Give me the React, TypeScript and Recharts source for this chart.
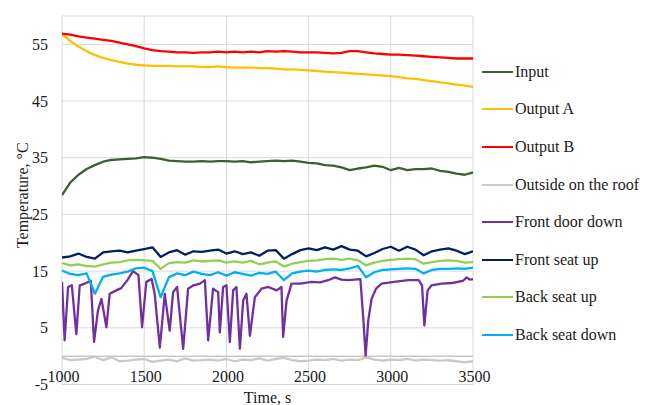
import { LineChart, Line, XAxis, YAxis, CartesianGrid, ReferenceLine } from 'recharts'

// time grid, s
const time = [
  1000, 1050, 1100, 1150, 1200, 1250, 1300, 1350, 1400, 1450,
  1500, 1550, 1600, 1650, 1700, 1750, 1800, 1850, 1900, 1950,
  2000, 2050, 2100, 2150, 2200, 2250, 2300, 2350, 2400, 2450,
  2500, 2550, 2600, 2650, 2700, 2750, 2800, 2850, 2900, 2950,
  3000, 3050, 3100, 3150, 3200, 3250, 3300, 3350, 3400, 3450,
  3500,
]

const input = [
  28.4, 30.6, 32.0, 33.0, 33.7, 34.3, 34.6, 34.7, 34.8, 34.9,
  35.1, 35.0, 34.8, 34.5, 34.4, 34.3, 34.3, 34.4, 34.3, 34.4,
  34.4, 34.3, 34.4, 34.2, 34.3, 34.4, 34.5, 34.4, 34.5, 34.3,
  34.1, 34.0, 33.7, 33.6, 33.3, 32.8, 33.1, 33.3, 33.6, 33.4,
  32.8, 33.2, 32.8, 33.0, 33.0, 33.1, 32.7, 32.5, 32.2, 32.0,
  32.4,
]

const outputA = [
  56.8, 55.6, 54.6, 53.8, 53.1, 52.6, 52.2, 51.9, 51.6, 51.4,
  51.3, 51.2, 51.2, 51.2, 51.1, 51.1, 51.1, 51.0, 51.0, 51.1,
  51.0, 50.9, 50.9, 50.9, 50.8, 50.8, 50.7, 50.6, 50.6, 50.5,
  50.4, 50.3, 50.2, 50.1, 50.0, 49.9, 49.8, 49.7, 49.6, 49.5,
  49.4, 49.2, 49.0, 48.9, 48.7, 48.5, 48.3, 48.1, 47.9, 47.7,
  47.5,
]

const outputB = [
  56.9, 56.7, 56.4, 56.2, 56.0, 55.8, 55.6, 55.3, 55.0, 54.7,
  54.3, 54.0, 53.8, 53.7, 53.6, 53.6, 53.5, 53.6, 53.6, 53.7,
  53.6, 53.7, 53.6, 53.7, 53.6, 53.8, 53.7, 53.8, 53.7, 53.6,
  53.6, 53.6, 53.5, 53.4, 53.5, 53.8, 53.8, 53.6, 53.4, 53.3,
  53.2, 53.2, 53.1, 53.0, 52.9, 52.8, 52.7, 52.6, 52.5, 52.5,
  52.5,
]

const roof = [
  -0.3, -0.7, -0.6, -0.5, -0.1, -0.7, -0.2, -0.9, -0.8, -0.6,
  -0.5, -1.0, -0.8, -0.6, -0.9, -0.4, -0.8, -0.7, -0.6, -0.8,
  -0.5, -0.9, -0.6, -0.7, -0.4, -0.8, -0.5, -0.3, -0.7, -0.9,
  -0.8, -0.6, -0.7, -0.5, -0.8, -0.6, -0.7, -0.2, -0.6, -0.8,
  -0.6, -0.7, -0.5, -0.8, -0.6, -0.7, -0.8, -0.7, -0.9, -1.1,
  -0.9,
]

const frontSeatUp = [
  17.4, 17.6, 18.1, 17.5, 17.2, 18.3, 18.5, 18.6, 18.3, 18.6,
  18.9, 19.2, 17.5, 18.3, 18.7, 17.9, 18.5, 18.4, 18.6, 18.8,
  18.1, 18.5, 18.0, 18.3, 17.7, 18.6, 18.7, 17.2, 18.0, 18.7,
  19.0, 18.7, 19.2, 18.8, 19.4, 18.8, 18.6, 17.6, 18.2, 18.9,
  19.3, 18.6, 19.3, 18.8, 17.8, 18.5, 18.8, 19.0, 18.6, 18.0,
  18.5,
]

const backSeatUp = [
  16.4, 16.0, 16.2, 15.9, 15.8, 16.2, 16.5, 16.6, 16.9, 17.0,
  16.9, 16.8, 15.4, 16.4, 16.6, 16.5, 16.9, 16.7, 16.8, 16.9,
  16.5, 16.7, 16.5, 16.8, 16.2, 16.5, 16.7, 15.8, 16.3, 16.6,
  16.8, 16.9, 17.1, 17.2, 17.0, 17.2, 16.9, 16.0, 16.5, 16.8,
  17.0, 17.1, 17.2, 17.1, 16.3, 16.6, 16.8, 16.9, 16.8, 16.5,
  16.6,
]

const backSeatDown = [
  15.1, 14.5, 14.3, 14.6, 11.0, 14.0, 14.4, 14.6, 14.9, 15.5,
  15.6, 15.0, 10.4, 13.9, 14.6, 14.3, 14.9, 14.5, 14.3, 14.8,
  14.2, 14.8, 14.5, 14.2, 14.7, 14.5, 14.9, 13.4, 14.6, 14.9,
  15.1, 14.9, 15.2, 15.3, 15.2, 15.5, 15.9, 13.9, 14.8, 15.2,
  15.3, 15.4, 15.5, 15.4, 14.6, 15.2, 15.4, 15.4, 15.5, 15.4,
  15.6,
]

// front door sensor is logged on its own (uneven) times
const doorTime = [
  1000, 1016, 1037, 1060, 1087, 1108, 1140, 1175, 1195, 1219,
  1240, 1270, 1290, 1330, 1360, 1400, 1432, 1465, 1487, 1513,
  1545, 1564, 1595, 1625, 1655, 1676, 1700, 1737, 1767, 1800,
  1840, 1869, 1889, 1919, 1950, 1960, 1980, 2000, 2021, 2041,
  2061, 2082, 2102, 2122, 2143, 2173, 2214, 2255, 2305, 2335,
  2345, 2366, 2396, 2450, 2518, 2570, 2619, 2660, 2700, 2741,
  2780, 2815, 2832, 2847, 2863, 2883, 2910, 2944, 3020, 3106,
  3170, 3190, 3204, 3224, 3248, 3310, 3370, 3440, 3461, 3480,
  3500,
]

const frontDoorDown = [
  13.1, 2.8, 12.2, 12.5, 3.9, 12.5, 12.8, 13.3, 2.5, 8.1,
  10.1, 5.1, 11.0, 11.6, 12.0, 13.5, 15.0, 14.3, 5.1, 13.1,
  13.6, 11.0, 1.5, 11.0, 4.5, 11.3, 12.2, 1.3, 11.9, 12.5,
  12.8, 13.4, 2.8, 11.9, 11.3, 4.2, 12.2, 12.5, 2.5, 11.6,
  12.2, 1.3, 9.8, 11.0, 3.6, 10.4, 11.9, 12.2, 11.6, 12.2,
  3.4, 9.8, 12.8, 12.8, 13.1, 13.0, 13.4, 13.9, 13.5, 13.4,
  13.5, 13.6, 6.9, 0.1, 6.3, 10.1, 11.9, 12.8, 13.1, 13.4,
  13.4, 12.5, 5.4, 11.6, 12.5, 12.8, 12.9, 13.3, 13.9, 13.5,
  13.6,
]

const xTicks = [1000, 1500, 2000, 2500, 3000, 3500]
const yTicks = [-5, 5, 15, 25, 35, 45, 55]

const toPoints = (ts: number[], vs: number[]) => ts.map((t, i) => ({ t, v: vs[i] }))

const series = [
  { name: 'Input', color: '#3d5f2f', data: toPoints(time, input) },
  { name: 'Output A', color: '#ffc000', data: toPoints(time, outputA) },
  { name: 'Output B', color: '#ff0000', data: toPoints(time, outputB) },
  { name: 'Outside on the roof', color: '#c9c9c9', data: toPoints(time, roof) },
  { name: 'Front door down', color: '#7030a0', data: toPoints(doorTime, frontDoorDown) },
  { name: 'Front seat up', color: '#002060', data: toPoints(time, frontSeatUp) },
  { name: 'Back seat up', color: '#92d050', data: toPoints(time, backSeatUp) },
  { name: 'Back seat down', color: '#00b0f0', data: toPoints(time, backSeatDown) },
]

const FONT = "'Liberation Serif', serif"

const XTick = ({ x, y, payload }: any) => (
  <text x={x} y={y} dx={1.5} dy={-3} textAnchor="middle" fontFamily={FONT} fontSize={16} fill="#1a1a1a">
    {payload.value}
  </text>
)

export default function App() {
  return (
    <div style={{ position: 'absolute', left: 0, top: 0, width: 654, height: 405, background: '#fff', fontFamily: FONT }}>
      <LineChart width={654} height={405} margin={{ top: 16, right: 181, bottom: 0, left: 0 }} style={{ fontFamily: FONT }}>
        <CartesianGrid stroke="#d9d9d9" strokeWidth={1} />
        <XAxis
          type="number"
          dataKey="t"
          domain={[1000, 3500]}
          ticks={xTicks}
          allowDataOverflow
          height={20.5}
          axisLine={false}
          tickLine={false}
          tickSize={0}
          tickMargin={0}
          tick={<XTick />}
          interval={0}
          label={{ value: 'Time, s', position: 'insideBottom', offset: 2, fontFamily: FONT, fontSize: 16, fill: '#1a1a1a' }}
        />
        <YAxis
          type="number"
          domain={[-5, 60]}
          ticks={yTicks}
          allowDataOverflow
          width={62}
          axisLine={false}
          tickLine={false}
          tickSize={0}
          tickMargin={14}
          interval={0}
          tick={{ fontFamily: FONT, fontSize: 16, fill: '#1a1a1a' }}
          label={{
            value: 'Temperature, °C',
            angle: -90,
            position: 'insideLeft',
            offset: 22,
            dy: -5,
            textAnchor: 'middle',
            fontFamily: FONT,
            fontSize: 16,
            fill: '#1a1a1a',
          }}
        />
        <ReferenceLine y={0} stroke="#c8c8c8" strokeWidth={1.5} />
        {series.map((s) => (
          <Line
            key={s.name}
            data={s.data}
            dataKey="v"
            name={s.name}
            type="linear"
            stroke={s.color}
            strokeWidth={2.3}
            strokeLinejoin="round"
            dot={false}
            activeDot={false}
            isAnimationActive={false}
          />
        ))}
      </LineChart>
      <div style={{ position: 'absolute', left: 482, top: 53, fontFamily: FONT, fontSize: 16, color: '#1a1a1a' }}>
        {series.map((s) => (
          <div key={s.name} style={{ display: 'flex', alignItems: 'center', height: 37.6, whiteSpace: 'nowrap' }}>
            <span style={{ display: 'inline-block', width: 31, height: 2, background: s.color, marginRight: 2 }} />
            <span>{s.name}</span>
          </div>
        ))}
      </div>
    </div>
  )
}
